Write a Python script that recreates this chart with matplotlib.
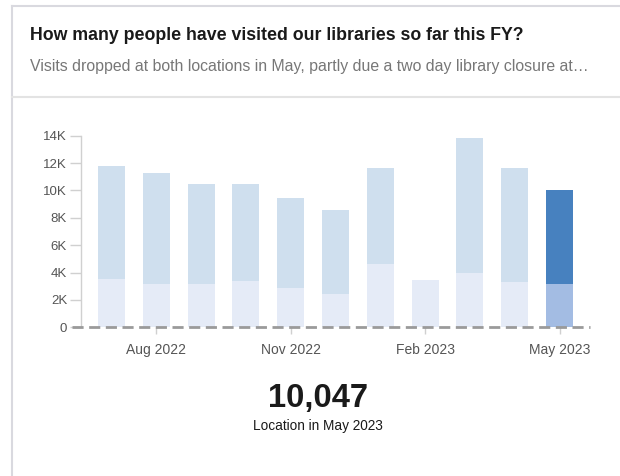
import numpy as np
import matplotlib
matplotlib.use('Agg')
import matplotlib.pyplot as plt
from matplotlib.lines import Line2D

plt.rcParams['font.family'] = ['Liberation Sans', 'DejaVu Sans']

# monthly visits, FY so far
months = ['Jul 2022', 'Aug 2022', 'Sep 2022', 'Oct 2022', 'Nov 2022', 'Dec 2022',
          'Jan 2023', 'Feb 2023', 'Mar 2023', 'Apr 2023', 'May 2023']
location_a = [3530, 3160, 3160, 3380, 2870, 2460, 4620, 3450, 3940, 3310, 3160]
totals = [11780, 11270, 10470, 10470, 9450, 8570, 11640, 3450, 13830, 11640, 10047]
tick_months = ['Aug 2022', 'Nov 2022', 'Feb 2023', 'May 2023']
y_ticks = [0, 2000, 4000, 6000, 8000, 10000, 12000, 14000]
y_labels = ['0', '2K', '4K', '6K', '8K', '10K', '12K', '14K']

headline = 'How many people have visited our libraries so far this FY?'
subhead = 'Visits dropped at both locations in May, partly due a two day library closure at\u2026'
big_value = '10,047'
big_caption = 'Location in May 2023'

W, H = 620, 476
fig = plt.figure(figsize=(W / 100, H / 100), dpi=100)
fig.patch.set_facecolor('white')

# card borders
border = '#d9d9df'
fig.add_artist(Line2D([12 / W, 1], [1 - 6 / H, 1 - 6 / H], color=border, lw=1.5))
fig.add_artist(Line2D([12 / W, 12 / W], [0, 1 - 6 / H], color=border, lw=1.5))
fig.add_artist(Line2D([12 / W, 1], [1 - 97 / H, 1 - 97 / H], color='#e3e3e3', lw=1.5))

fig.text(30 / W, 1 - 36 / H, headline, fontsize=12.8, fontweight='bold',
         color='#1a1a1a', va='center', ha='left')
fig.text(30 / W, 1 - 66 / H, subhead, fontsize=11.4, color='#777777',
         va='center', ha='left')

# chart area
left, right = 81, 590
top, bottom = 135.7, 327.3
ax = fig.add_axes([left / W, 1 - bottom / H, (right - left) / W, (bottom - top) / H])

x = np.arange(len(months))
lower = np.array(location_a)
upper = np.array(totals) - lower
low_col = ['#e5ebf7'] * len(months)
up_col = ['#cfdfee'] * len(months)
low_col[-1] = '#a3bce3'
up_col[-1] = '#4781bf'

ax.bar(x, lower, width=0.6, color=low_col, zorder=2)
ax.bar(x, upper, width=0.6, bottom=lower, color=up_col, zorder=2)

ax.set_xlim(-0.68, len(months) - 1 + 0.68)
ax.set_ylim(0, 14000)

for s in ['top', 'right', 'bottom']:
    ax.spines[s].set_visible(False)
ax.spines['left'].set_color('#d0d0d0')
ax.spines['left'].set_linewidth(1)

ax.set_yticks(y_ticks)
ax.set_yticklabels(y_labels)
ax.tick_params(axis='y', length=8, width=1, color='#d0d0d0', labelcolor='#555555',
               labelsize=9.5, pad=2)

ax.set_xticks([months.index(m) for m in tick_months])
ax.set_xticklabels(tick_months)
ax.tick_params(axis='x', length=5, width=1, color='#d0d0d0', labelcolor='#555555',
               labelsize=10, pad=6)

# dashed baseline
ax.axhline(0, xmin=-9 / (right - left), xmax=1, color='#9a9a9a', lw=2,
           dashes=(4, 2), clip_on=False, zorder=3)

fig.text(318 / W, 1 - 399 / H, big_value, fontsize=23.6, fontweight='bold',
         color='#1a1a1a', ha='center', va='center')
fig.text(318 / W, 1 - 426 / H, big_caption, fontsize=9.8, color='#1a1a1a',
         ha='center', va='center')

fig.savefig('out.png', dpi=100, facecolor='white')
